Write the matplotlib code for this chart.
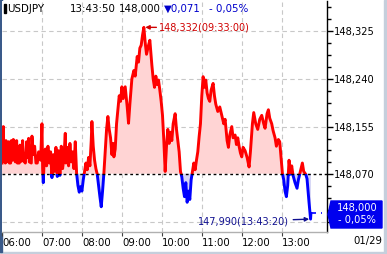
import matplotlib
matplotlib.use('Agg')
import matplotlib.pyplot as plt
from matplotlib.patches import Rectangle, Polygon
import numpy as np

# minutes after 06:00 and USDJPY price
minutes = [0, 2, 3, 5, 6, 7, 10, 11, 13, 14, 16, 17, 19, 20, 22, 23, 26, 27, 29, 31,
           32, 35, 37, 38, 40, 41, 44, 45, 47, 49, 51, 53, 55, 57, 58, 60, 61, 62, 63, 65,
           67, 69, 71, 73, 75, 77, 79, 81, 83, 85, 87, 89, 91, 93, 95, 96, 98, 100, 102, 104,
           106, 108, 110, 112, 114, 116, 118, 120, 122, 124, 126, 128, 130, 132, 134, 135, 137, 139, 141, 143,
           145, 147, 149, 151, 153, 155, 157, 159, 161, 163, 165, 167, 168, 170, 172, 174, 176, 178, 180, 182,
           185, 188, 190, 192, 195, 198, 200, 203, 205, 207, 209, 211, 213, 215, 217, 220, 222, 225, 227, 229,
           231, 233, 235, 237, 239, 241, 243, 245, 247, 249, 251, 253, 255, 257, 260, 262, 264, 266, 268, 270,
           272, 274, 276, 278, 280, 282, 284, 286, 288, 290, 292, 294, 296, 298, 300, 302, 304, 306, 308, 310,
           312, 314, 317, 319, 321, 324, 327, 330, 333, 335, 338, 340, 342, 345, 347, 350, 352, 354, 356, 358,
           360, 362, 365, 368, 371, 373, 376, 378, 381, 384, 387, 390, 393, 395, 398, 400, 402, 405, 407, 410,
           412, 415, 417, 419, 421, 423, 425, 427, 429, 431, 433, 435, 437, 440, 443, 445, 448, 451, 453, 456,
           458, 461, 463.33, 463.83]
prices = [148.090, 148.155, 148.095, 148.090, 148.130, 148.092, 148.128, 148.090, 148.090, 148.130,
          148.095, 148.132, 148.128, 148.092, 148.130, 148.090, 148.090, 148.122, 148.093, 148.130,
          148.095, 148.090, 148.128, 148.100, 148.134, 148.092, 148.090, 148.138, 148.105, 148.120,
          148.090, 148.090, 148.110, 148.105, 148.095, 148.160, 148.080, 148.055, 148.085, 148.115,
          148.085, 148.120, 148.090, 148.110, 148.064, 148.105, 148.075, 148.118, 148.066, 148.112,
          148.068, 148.120, 148.080, 148.100, 148.143, 148.090, 148.118, 148.085, 148.125, 148.092,
          148.110, 148.080, 148.128, 148.072, 148.050, 148.038, 148.048, 148.040, 148.060, 148.075,
          148.090, 148.078, 148.100, 148.085, 148.130, 148.164, 148.120, 148.095, 148.080, 148.070,
          148.050, 148.030, 148.012, 148.040, 148.072, 148.110, 148.150, 148.173, 148.150, 148.135,
          148.105, 148.125, 148.101, 148.115, 148.160, 148.185, 148.210, 148.200, 148.226, 148.205,
          148.226, 148.190, 148.161, 148.195, 148.240, 148.255, 148.245, 148.280, 148.270, 148.295,
          148.300, 148.318, 148.332, 148.305, 148.284, 148.300, 148.309, 148.265, 148.240, 148.225,
          148.245, 148.230, 148.238, 148.220, 148.200, 148.175, 148.130, 148.075, 148.120, 148.150,
          148.125, 148.145, 148.130, 148.160, 148.178, 148.150, 148.130, 148.110, 148.075, 148.065,
          148.045, 148.030, 148.055, 148.020, 148.040, 148.025, 148.060, 148.075, 148.090, 148.078,
          148.095, 148.110, 148.137, 148.160, 148.210, 148.244, 148.225, 148.238, 148.215, 148.205,
          148.200, 148.220, 148.232, 148.210, 148.195, 148.182, 148.190, 148.175, 148.160, 148.168,
          148.130, 148.118, 148.140, 148.155, 148.135, 148.140, 148.123, 148.135, 148.120, 148.108,
          148.101, 148.118, 148.112, 148.100, 148.083, 148.110, 148.160, 148.180, 148.160, 148.150,
          148.168, 148.175, 148.160, 148.152, 148.178, 148.185, 148.170, 148.160, 148.148, 148.135,
          148.120, 148.132, 148.128, 148.100, 148.072, 148.060, 148.040, 148.030, 148.050, 148.095,
          148.070, 148.085, 148.068, 148.055, 148.045, 148.060, 148.075, 148.090, 148.075, 148.070,
          148.062, 148.020, 147.990, 148.000]

prev_close = 148.071
last_price = 148.000
hour_labels = ['06:00', '07:00', '08:00', '09:00', '10:00', '11:00', '12:00', '13:00']
y_ticks = [148.325, 148.240, 148.155, 148.070]

x = np.array(minutes)
p = np.array(prices)

W, H = 387, 254
fig = plt.figure(figsize=(W / 100, H / 100), dpi=100)
fig.patch.set_facecolor('white')
# window frame strips
fig.add_artist(Rectangle((0, 0), 1, 2.5 / H, transform=fig.transFigure, color='#c5cfdc', zorder=0))
fig.add_artist(Rectangle((1 - 3.5 / W, 0), 3.5 / W, 1, transform=fig.transFigure, color='#c5cfdc', zorder=0))
fig.add_artist(Rectangle((0, 2.5 / H), 1.5 / W, 1, transform=fig.transFigure, color='#3a5a8a', zorder=0))

ax = fig.add_axes([2 / W, 1 - 232 / H, 325 / W, 231 / H])
ymin, ymax = 147.967, 148.379
xmin, xmax = 0.45, 488
ax.set_xlim(xmin, xmax)
ax.set_ylim(ymin, ymax)

# fills
ax.fill_between(x, p, prev_close, where=p >= prev_close, interpolate=True,
                color='#ffd4d4', lw=0, zorder=1)
ax.fill_between(x, p, prev_close, where=p <= prev_close, interpolate=True,
                color='#d4d4f6', lw=0, zorder=1)

# price line, red above previous close and blue below
red_line, = ax.plot(x, p, color='#ff0000', lw=2.1, zorder=3)
blue_line, = ax.plot(x, p, color='#0000ff', lw=2.1, zorder=3)
clip_up = Rectangle((xmin, prev_close), xmax - xmin, ymax - prev_close, transform=ax.transData)
clip_dn = Rectangle((xmin, ymin), xmax - xmin, prev_close - ymin, transform=ax.transData)
red_line.set_clip_path(clip_up)
blue_line.set_clip_path(clip_dn)

ax.axhline(prev_close, color='black', lw=1, ls=(0, (2, 2)), zorder=4)
ax.plot([x[-1], xmax - 8], [last_price, last_price], color='#0000ff', lw=1.2,
        ls=(0, (3, 3)), zorder=4)

# grid
hours = np.arange(0, 480, 60)
for h in hours[1:]:
    ax.axvline(h, color='#c8c8c8', lw=0.8, ls=(0, (4, 3)), zorder=0)
for yt in y_ticks[:-1] + [147.985]:
    ax.axhline(yt, color='#c8c8c8', lw=0.8, ls=(0, (4, 3)), zorder=0)

for s in ['top', 'left']:
    ax.spines[s].set_visible(False)
ax.spines['right'].set_color('black')
ax.spines['right'].set_linewidth(1)
ax.spines['bottom'].set_color('#b0b0b0')
ax.spines['bottom'].set_linewidth(1)

# axes ticks
ax.yaxis.tick_right()
ax.set_yticks(y_ticks)
ax.set_yticklabels([f'{v:.3f}'.replace('.', ',') for v in y_ticks])
ax.set_yticks(np.arange(147.985, 148.38, 0.02125), minor=True)
ax.tick_params(axis='y', which='major', length=4, width=1, pad=1, labelsize=7.1, colors='black')
ax.tick_params(axis='y', which='minor', length=3, width=1, colors='black')
ax.set_xticks(hours)
ax.set_xticklabels(hour_labels)
ax.tick_params(axis='x', length=3, width=0.8, pad=1.5, labelsize=7.3, color='#404040')
for lbl in ax.get_xticklabels():
    lbl.set_ha('left')

# header
fs = 7.4
hy = 0.967
ax.add_patch(Rectangle((1.5 / 325, hy - 0.02), 2 / 325, 0.04, transform=ax.transAxes,
                       color='black', zorder=6))
ax.text(5 / 325, hy, 'USDJPY', transform=ax.transAxes, fontsize=fs, color='black', va='center')
ax.text(68 / 325, hy, '13:43:50', transform=ax.transAxes, fontsize=fs, color='black', va='center')
ax.text(117 / 325, hy, '148,000', transform=ax.transAxes, fontsize=fs, color='black', va='center')
ax.text(162 / 325, hy, '\u25bc0,071', transform=ax.transAxes, fontsize=fs, color='#0000cc', va='center')
ax.text(207 / 325, hy, '- 0,05%', transform=ax.transAxes, fontsize=fs, color='#0000cc', va='center')

# high / low annotations
ax.annotate('148,332(09:33:00)', xy=(213, 148.332), xytext=(236, 148.332),
            fontsize=7.0, color='#d00000', va='center', ha='left',
            arrowprops=dict(arrowstyle='-|>', color='#d00000', lw=1, mutation_scale=6,
                            shrinkA=0, shrinkB=1))
ax.annotate('147,990(13:43:20)', xy=(463.33, 147.990), xytext=(431, 147.986),
            fontsize=7.0, color='#101090', va='center', ha='right',
            arrowprops=dict(arrowstyle='-|>', color='#101090', lw=1, mutation_scale=6,
                            shrinkA=1, shrinkB=1))

# current price box on the right axis
box_x0, box_x1 = 328 / W, 382 / W
box_y0, box_y1 = 1 - 228 / H, 1 - 201 / H
box_mid = 1 - 214.5 / H
fig.add_artist(Polygon([(box_x0, box_mid), (box_x0 + 3 / W, box_y1), (box_x1, box_y1),
                        (box_x1, box_y0), (box_x0 + 3 / W, box_y0)],
                       closed=True, transform=fig.transFigure, color='#0000ee', zorder=5))
fig.text(357 / W, 1 - 208 / H, '148,000', color='white', fontsize=7.1, ha='center', va='center', zorder=6)
fig.text(357 / W, 1 - 220 / H, '- 0,05%', color='white', fontsize=7.1, ha='center', va='center', zorder=6)

fig.text(382 / W, 1 - 241 / H, '01/29', color='black', fontsize=7.3, ha='right', va='center')

plt.savefig('out.png', dpi=100)
